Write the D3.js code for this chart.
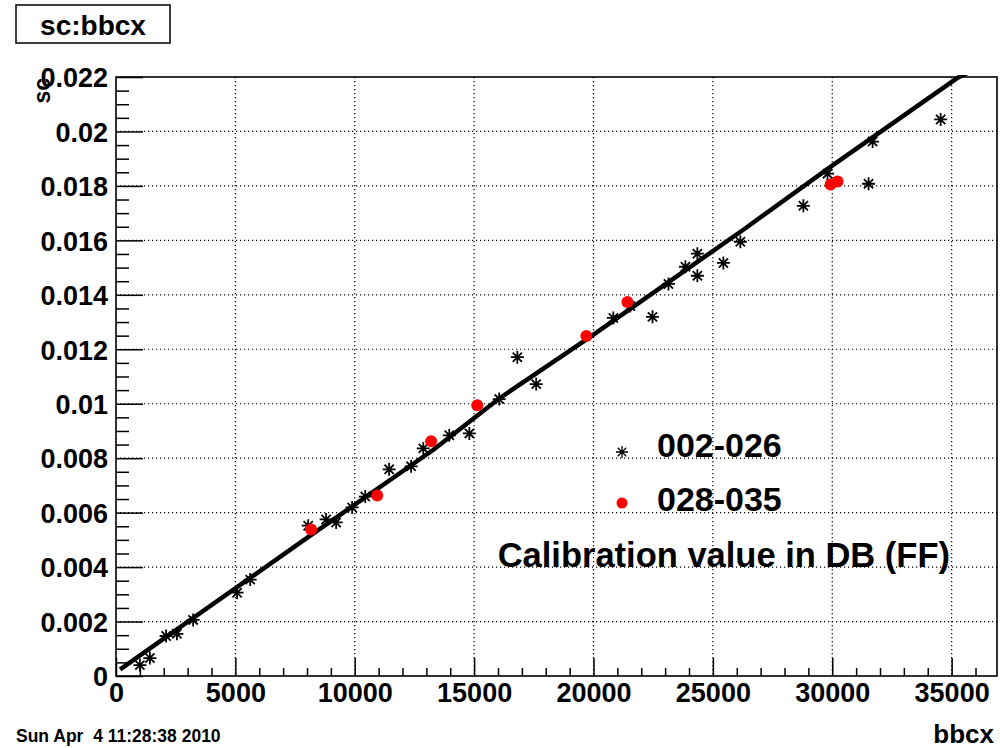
<!DOCTYPE html>
<html>
<head>
<meta charset="utf-8">
<script src="https://cdn.jsdelivr.net/npm/d3@7"></script>
<style>
  body { margin: 0; background: #fff; }
  svg { display: block; font-family: "Liberation Sans", Arial, sans-serif; font-weight: bold; }
</style>
</head>
<body>
<svg id="chart" width="1000" height="748"></svg>
<script>
// ---- data ----
// 002-026 runs (asterisks)
const starX = [1000, 1420, 2100, 2550, 3230, 5070, 5620, 8050, 8800, 9220, 9890, 10440, 11440, 12360,
  12870, 13960, 14800, 16050, 16810, 17600, 20830, 21540, 22470, 23140, 23850, 24350, 24350, 25440,
  26150, 28790, 29800, 31520, 31690, 34540];
const starY = [0.0004, 0.00066, 0.00147, 0.00155, 0.00206, 0.00306, 0.00354, 0.00552, 0.00575, 0.00564,
  0.00619, 0.00659, 0.00759, 0.0077, 0.00836, 0.00884, 0.00891, 0.01017, 0.01171, 0.01072, 0.01315,
  0.01359, 0.01319, 0.0144, 0.01503, 0.01551, 0.0147, 0.01517, 0.01595, 0.01727, 0.01845, 0.01808,
  0.01963, 0.02044];

// 028-035 runs (red dots)
const dotX = [8170, 10940, 13200, 15130, 19700, 21420, 29930, 30220];
const dotY = [0.00538, 0.00663, 0.00862, 0.00994, 0.01249, 0.01374, 0.01805, 0.01816];

// calibration value in DB (thick line)
const calX = [250, 8000, 13280, 16080, 19850, 26260, 29910, 35230, 35560];
const calY = [0.000294, 0.00507, 0.0083, 0.01021, 0.01245, 0.01638, 0.01869, 0.02196, 0.0221];

const xTicks = [0, 5000, 10000, 15000, 20000, 25000, 30000, 35000];
const yTicks = [0, 0.002, 0.004, 0.006, 0.008, 0.01, 0.012, 0.014, 0.016, 0.018, 0.02, 0.022];
const xDomain = [0, 36900];
const yDomain = [0, 0.022];

const titleText = "sc:bbcx";
const xTitle = "bbcx";
const yTitle = "sc";
const dateText = "Sun Apr  4 11:28:38 2010";
const legendLabels = ["002-026", "028-035"];
const noteText = "Calibration value in DB (FF)";

// ---- layout ----
const svg = d3.select("#chart");
const frame = { left: 116, right: 997, top: 77, bottom: 676 };

const x = d3.scaleLinear().domain(xDomain).range([frame.left, frame.right]);
const y = d3.scaleLinear().domain(yDomain).range([frame.bottom, frame.top]);

const xMinor = d3.range(0, xDomain[1], 1000).filter(v => v % 5000 !== 0);
const yMinor = d3.range(0, 22).map(i => i * 0.001 + 0.0005)
  .concat(d3.range(1, 22, 2).map(i => i * 0.001))
  .filter(v => v < yDomain[1]);

svg.append("rect").attr("width", 1000).attr("height", 748).attr("fill", "#fff");

// dotted grid
const grid = svg.append("g")
  .attr("stroke", "#000").attr("stroke-width", 1.2).attr("stroke-dasharray", "1.2,2.8");
grid.selectAll(".gx").data(xTicks.filter(v => v > 0)).join("line")
  .attr("x1", d => x(d)).attr("x2", d => x(d))
  .attr("y1", frame.top).attr("y2", frame.bottom);
grid.selectAll(".gy").data(yTicks.filter(v => v > 0 && v < yDomain[1])).join("line")
  .attr("x1", frame.left).attr("x2", frame.right)
  .attr("y1", d => y(d)).attr("y2", d => y(d));

// axes, ticks pointing into the frame like ROOT
const xAxis = svg.append("g")
  .attr("transform", `translate(0,${frame.bottom})`)
  .call(d3.axisBottom(x).tickValues(xTicks).tickSize(-18).tickPadding(7).tickFormat(d3.format("d")));
svg.append("g")
  .attr("transform", `translate(0,${frame.bottom})`)
  .call(d3.axisBottom(x).tickValues(xMinor).tickSize(-8).tickFormat(""));

const yAxis = svg.append("g")
  .attr("transform", `translate(${frame.left},0)`)
  .call(d3.axisLeft(y).tickValues(yTicks).tickSize(-27).tickPadding(8).tickFormat(d => d === 0 ? "0" : String(+d.toFixed(3))));
svg.append("g")
  .attr("transform", `translate(${frame.left},0)`)
  .call(d3.axisLeft(y).tickValues(yMinor).tickSize(-13).tickFormat(""));

svg.selectAll(".domain").remove();
svg.selectAll(".tick line").attr("stroke", "#000").attr("stroke-width", 1.5);
xAxis.selectAll("text").attr("font-size", 27).attr("font-family", "Liberation Sans, Arial, sans-serif")
  .attr("font-weight", "bold").attr("fill", "#000");
yAxis.selectAll("text").attr("font-size", 27).attr("font-family", "Liberation Sans, Arial, sans-serif")
  .attr("font-weight", "bold").attr("fill", "#000").attr("dy", "0.36em");

// frame
svg.append("rect")
  .attr("x", frame.left).attr("y", frame.top)
  .attr("width", frame.right - frame.left).attr("height", frame.bottom - frame.top)
  .attr("fill", "none").attr("stroke", "#000").attr("stroke-width", 1.6);

// clip for data
svg.append("clipPath").attr("id", "clip").append("rect")
  .attr("x", frame.left).attr("y", frame.top - 2)
  .attr("width", frame.right - frame.left).attr("height", frame.bottom - frame.top + 2);

const plot = svg.append("g").attr("clip-path", "url(#clip)");

// calibration line
const calPts = calX.map((v, i) => [v, calY[i]]);
plot.append("path")
  .datum(calPts)
  .attr("fill", "none").attr("stroke", "#000").attr("stroke-width", 4.5)
  .attr("stroke-linejoin", "round").attr("stroke-linecap", "square")
  .attr("d", d3.line().x(d => x(d[0])).y(d => y(d[1])));

// asterisk marker path
function starPath(r) {
  const d = r * Math.SQRT1_2;
  return `M${-r},0L${r},0M0,${-r}L0,${r}M${-d},${-d}L${d},${d}M${-d},${d}L${d},${-d}`;
}

const stars = starX.map((v, i) => [v, starY[i]]);
plot.selectAll(".star").data(stars).join("path")
  .attr("class", "star")
  .attr("transform", d => `translate(${x(d[0])},${y(d[1])})`)
  .attr("d", starPath(6.5))
  .attr("stroke", "#000").attr("stroke-width", 1.8).attr("fill", "none");

const dots = dotX.map((v, i) => [v, dotY[i]]);
plot.selectAll(".dot").data(dots).join("circle")
  .attr("class", "dot")
  .attr("cx", d => x(d[0])).attr("cy", d => y(d[1])).attr("r", 6)
  .attr("fill", "#f00");

// legend
svg.append("path")
  .attr("transform", "translate(622,452)")
  .attr("d", starPath(6))
  .attr("stroke", "#000").attr("stroke-width", 1.3).attr("fill", "none");
svg.append("circle").attr("cx", 622).attr("cy", 503).attr("r", 5.5).attr("fill", "#f00");
svg.append("text").attr("x", 657).attr("y", 457).attr("font-size", 34).text(legendLabels[0]);
svg.append("text").attr("x", 657).attr("y", 511).attr("font-size", 34).text(legendLabels[1]);
svg.append("text").attr("x", 950).attr("y", 567).attr("font-size", 34.5)
  .attr("text-anchor", "end").text(noteText);

// axis titles
svg.append("text").attr("x", 994).attr("y", 743).attr("font-size", 26)
  .attr("text-anchor", "end").text(xTitle);
svg.append("text")
  .attr("transform", "translate(50,78) rotate(-90)")
  .attr("font-size", 23).attr("text-anchor", "end").text(yTitle);

// title box
svg.append("rect").attr("x", 16).attr("y", 5).attr("width", 154).attr("height", 38)
  .attr("fill", "#fff").attr("stroke", "#000").attr("stroke-width", 1.5);
svg.append("text").attr("x", 93).attr("y", 35).attr("font-size", 28)
  .attr("text-anchor", "middle").text(titleText);

// date stamp
svg.append("text").attr("x", 16).attr("y", 742).attr("font-size", 17.5)
  .style("white-space", "pre").text(dateText);
</script>
</body>
</html>
